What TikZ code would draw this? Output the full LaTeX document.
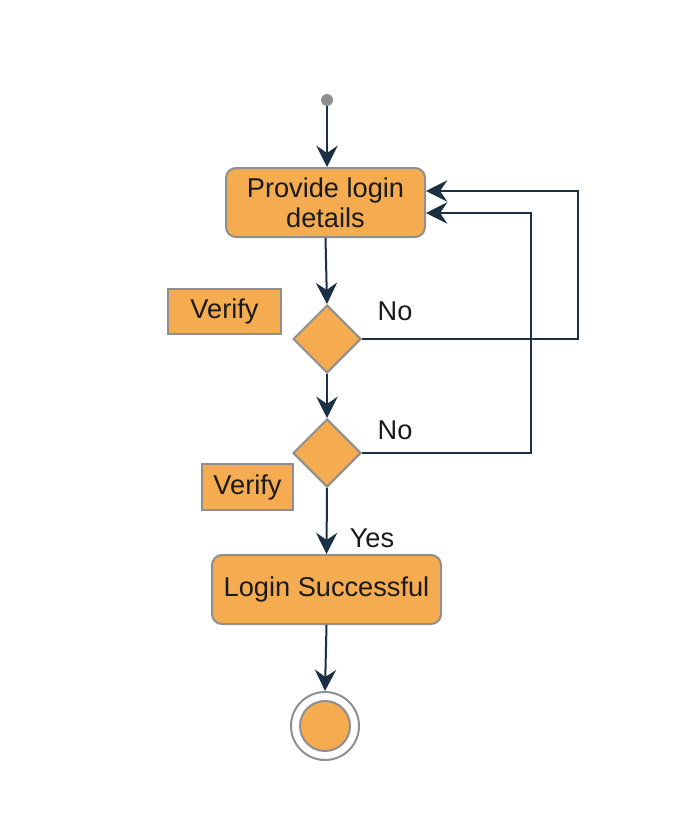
\documentclass[tikz,border=0pt]{standalone}
\usepackage{fontspec}
\setmainfont{Liberation Sans}
\usetikzlibrary{shapes.geometric,arrows.meta}
\definecolor{boxfill}{HTML}{F5AB4F}
\definecolor{boxline}{HTML}{8F8F8F}
\definecolor{flowline}{HTML}{1B3044}
\definecolor{txt}{HTML}{1A1A1A}
\tikzset{
  activity/.style={draw=boxline, line width=1.5pt, fill=boxfill, rounded corners=7.5pt, align=center, inner sep=0pt},
  notebox/.style={draw=boxline, line width=1.5pt, fill=boxfill, inner sep=0pt},
  decision/.style={diamond, draw=boxline, line width=1.5pt, fill=boxfill, minimum width=51pt, minimum height=51pt, inner sep=0pt},
  flow/.style={draw=flowline, line width=1.5pt, -{Stealth[length=16pt,width=16pt,inset=5.5pt]}},
}
\begin{document}
\begin{tikzpicture}[x=0.75pt, y=-0.75pt, every node/.style={font=\fontsize{20.4}{22.5}\selectfont, text=txt}]
\useasboundingbox (0,0) rectangle (691,820);
\node[circle, fill=boxline, minimum size=9pt, inner sep=0pt] (start) at (327,100) {};
\node[activity, minimum width=149.25pt, minimum height=51.75pt] (provide) at (325.5,202.5) {Provide login\\details};
\node[decision] (check1) at (327,339) {};
\node[decision] (check2) at (327,453) {};
\node[notebox, minimum width=84.75pt, minimum height=33.75pt] (verify1) at (224.5,311.5) {Verify};
\node[notebox, minimum width=68.25pt, minimum height=34.5pt] (verify2) at (247.5,487) {Verify};
\node[activity, minimum width=171.75pt, minimum height=51.75pt] (success) at (326.5,589.5) {Login Successful};
\node[circle, draw=boxline, line width=1.5pt, fill=white, minimum size=51pt, inner sep=0pt] (stop) at (325,726) {};
\node[circle, draw=boxline, line width=1.5pt, fill=boxfill, minimum size=37.5pt, inner sep=0pt] at (stop) {};
\node (no1) at (395,311) {No};
\node (no2) at (395,430) {No};
\node (yes) at (372,538) {Yes};
\coordinate (loop1) at (578,191);
\coordinate (loop2) at (531,213);
% flow
\draw[flow] (start) -- (start |- provide.north);
\draw[flow] (provide.south) -- (check1.north);
\draw[flow] (check1.south) -- (check2.north);
\draw[flow] (check2.south) -- (success.north);
\draw[flow] (success.south) -- (stop.north);
% back to login
\draw[flow] (check1.east) -| (loop1) -- (loop1 -| provide.east);
\draw[flow] (check2.east) -| (loop2) -- (loop2 -| provide.east);
\end{tikzpicture}
\end{document}
